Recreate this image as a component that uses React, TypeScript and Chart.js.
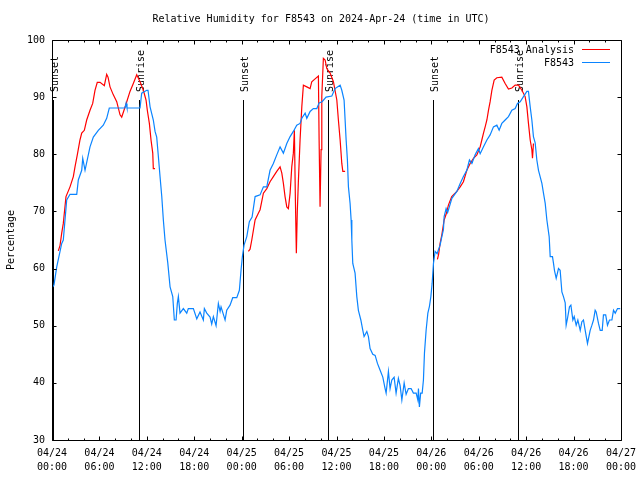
import React, { useEffect, useRef } from "react";
import { Chart, registerables } from "chart.js";

Chart.register(...registerables);

const TITLE = "Relative Humidity for F8543 on 2024-Apr-24 (time in UTC)";
const Y_TITLE = "Percentage";
const ANALYSIS_LABEL = "F8543 Analysis";
const STATION_LABEL = "F8543";

// x tick labels (every 6 hours, from 04/24 00:00 to 04/27 00:00)
const tickDays = ["04/24", "04/24", "04/24", "04/24", "04/25", "04/25", "04/25", "04/25", "04/26", "04/26", "04/26", "04/26", "04/27"];
const tickTimes = ["00:00", "06:00", "12:00", "18:00", "00:00", "06:00", "12:00", "18:00", "00:00", "06:00", "12:00", "18:00", "00:00"];

// Sun events, hours since 04/24 00:00 UTC
const sunsetHours = [0.1, 24.2, 48.15];
const sunriseHours = [11.0, 34.97, 58.97];

// F8543 station observations (hours since start, % RH)
const stationHours = [0.0, 0.25, 0.6, 1.23, 1.43, 1.86, 2.28, 3.13, 3.33, 3.76,
  3.89, 4.18, 4.81, 5.23, 5.86, 6.49, 6.92, 7.25, 9.24, 9.37,
  9.49, 11.14, 11.35, 11.99, 12.15, 12.41, 12.82, 13.04, 13.25, 13.46,
  13.67, 13.89, 14.09, 14.3, 14.65, 14.94, 15.28, 15.48, 15.7, 15.86,
  15.99, 16.2, 16.62, 17.05, 17.25, 17.89, 18.32, 18.73, 19.15, 19.28,
  19.58, 20.0, 20.21, 20.42, 20.76, 21.05, 21.27, 21.39, 21.9, 22.11,
  22.53, 22.87, 23.38, 23.71, 23.92, 24.09, 24.3, 24.65, 24.97, 25.32,
  25.7, 26.33, 26.75, 27.18, 27.59, 28.01, 28.44, 28.86, 29.28, 29.71,
  30.13, 30.54, 30.97, 31.39, 31.61, 32.03, 32.24, 32.66, 33.07, 33.51,
  33.8, 34.18, 34.68, 35.41, 35.82, 36.46, 36.67, 36.96, 37.09, 37.22,
  37.38, 37.51, 37.72, 37.85, 37.94, 38.06, 38.35, 38.57, 38.77, 39.08,
  39.33, 39.49, 39.84, 40.04, 40.25, 40.59, 40.89, 41.18, 41.52, 41.86,
  42.15, 42.28, 42.57, 42.78, 43.0, 43.29, 43.54, 43.83, 44.05, 44.27,
  44.56, 44.81, 45.1, 45.44, 45.73, 46.08, 46.29, 46.37, 46.49, 46.65,
  46.84, 47.0, 47.13, 47.34, 47.56, 47.76, 47.94, 48.1, 48.27, 48.48,
  48.73, 48.9, 49.11, 49.33, 49.53, 49.62, 49.87, 50.06, 50.6, 51.23,
  51.65, 52.06, 52.49, 52.82, 53.13, 53.54, 53.96, 54.18, 54.6, 55.03,
  55.44, 55.86, 56.29, 56.58, 56.92, 57.34, 57.76, 58.19, 58.61, 58.9,
  59.24, 59.66, 60.09, 60.29, 60.51, 60.72, 60.92, 61.14, 61.35, 61.56,
  61.99, 62.19, 62.41, 62.62, 62.91, 63.04, 63.33, 63.46, 63.58, 63.8,
  64.09, 64.3, 64.52, 64.72, 64.94, 65.06, 65.23, 65.48, 65.66, 65.91,
  66.08, 66.33, 66.54, 66.84, 67.05, 67.25, 67.47, 67.76, 68.1, 68.32,
  68.52, 68.73, 68.86, 69.15, 69.37, 69.62, 69.78, 70.06, 70.29, 70.54,
  70.85, 71.05, 71.27, 71.56, 71.9];
const stationValues = [56.6, 57.1, 60.3, 64.4, 65, 72, 73, 73, 75.5, 77.2,
  79.3, 77.2, 81.3, 83, 84.2, 85.1, 86.3, 88.1, 88.1, 88.9,
  88.1, 88.1, 90.7, 91.2, 91.2, 88.3, 86, 84, 83, 79.6,
  76.1, 72.6, 68.5, 65, 61, 56.8, 55.1, 51, 51, 53.9,
  55.1, 52.2, 53, 52.2, 53, 53, 51.2, 52.4, 51, 53,
  52.2, 51.5, 50.3, 51.6, 50, 53.9, 52.5, 53.3, 51, 52.7,
  53.6, 54.9, 54.9, 56.2, 59.7, 62.1, 64.1, 65.6, 68.2, 69,
  72.6, 72.9, 74.3, 74.3, 77.2, 78.4, 79.9, 81.3, 80.2, 81.9,
  83.1, 84, 85.1, 85.4, 86.3, 87.2, 86.3, 87.5, 88, 88,
  89, 89.2, 90, 90.2, 91.5, 92.1, 91.2, 89.5, 86, 82.5,
  79, 74.3, 71.4, 68.5, 65, 60.9, 59.2, 55.1, 52.7, 51,
  49.2, 48.1, 49, 48.1, 46, 45, 44.8, 43.4, 42.2, 41,
  39, 38.2, 42, 39, 40.5, 41, 38.2, 40.8, 39.5, 37,
  40, 38, 39, 39, 38.2, 38.2, 37, 39, 35.8, 38.2,
  38.2, 40.5, 45.2, 49.2, 52.2, 53.4, 55.1, 57.4, 60.9, 63,
  62.6, 63.3, 64.1, 65.6, 66.8, 69.1, 70.5, 69.8, 72.3, 73.5,
  74.9, 76.1, 77.2, 79, 78.4, 79.9, 81, 80.1, 81.3, 82.5,
  83.4, 84.8, 85.1, 84.2, 85.4, 86, 86.6, 87.7, 88, 88.9,
  89.2, 90.1, 91, 91, 88.3, 86, 83.1, 82, 79, 77.2,
  74.9, 73.2, 71.4, 68.5, 65.6, 62.1, 62.1, 60.9, 59.7, 58.3,
  60, 59.7, 55.9, 55.1, 54, 50.1, 51.3, 53.3, 53.6, 51,
  51.6, 50.1, 51, 49.2, 50.7, 51, 49.2, 46.9, 49.2, 50.1,
  51, 52.7, 52.4, 50.4, 49.2, 49.2, 51.9, 51.9, 50.1, 51,
  51, 52.7, 52.2, 53, 53];

// F8543 Analysis (daytime only; null marks the gaps)
const analysisHours = [0.8, 1.01, 1.23, 1.43, 1.77, 2.28, 2.7, 2.91, 3.2, 3.54,
  3.76, 4.09, 4.39, 4.81, 5.15, 5.44, 5.73, 6.08, 6.62, 6.92,
  7.09, 7.34, 7.76, 8.19, 8.61, 8.82, 9.11, 9.46, 9.87, 10.29,
  10.72, 11.14, 11.56, 11.9, 12.06, 12.32, 12.53, 12.75, 12.82, 13.04,
  18.0,
  24.85, 25.06, 25.28, 25.7, 26.11, 26.33, 26.75, 27.18, 27.59, 28.01,
  28.44, 28.86, 29.08, 29.28, 29.49, 29.71, 29.91, 30.13, 30.34, 30.54,
  30.67, 30.8, 30.92, 31.04, 31.17, 31.39, 31.61, 31.81, 32.24, 32.66,
  32.87, 33.29, 33.71, 33.8, 33.92, 34.05, 34.14, 34.34, 34.56, 34.77,
  35.19, 35.61, 36.04, 36.24, 36.46, 36.67, 36.8, 37.09,
  42.0,
  48.77, 48.92, 49.11, 49.33, 49.62, 49.87, 50.16, 50.58, 51.23, 51.65,
  52.06, 52.49, 52.91, 53.33, 53.76, 54.18, 54.39, 54.6, 54.81, 55.03,
  55.23, 55.44, 55.66, 55.95, 56.29, 56.92, 57.34, 57.76, 58.19, 58.61,
  59.03, 59.46, 59.87, 60.09, 60.29, 60.51, 60.72, 60.8, 60.92];
const analysisValues = [63.1, 64, 66.2, 67.9, 72.6, 74.3, 76.1, 77.8, 79.9, 82.5,
  83.7, 84.2, 86, 87.7, 88.9, 91.2, 92.6, 92.6, 92, 94,
  93.5, 91.8, 90.4, 89.2, 86.9, 86.5, 87.7, 89.2, 91, 92.4,
  93.9, 92.7, 91.2, 89.5, 87.7, 85.4, 82.5, 80.2, 77.5, 77.5,
  null,
  63, 63.4, 65, 68.5, 69.7, 70.3, 73.2, 74, 75.2, 76.1,
  77, 77.8, 76.7, 74.9, 72.6, 70.8, 70.5, 73.2, 77.8, 80.2,
  84.2, 72, 62.7, 70, 75, 82.5, 88.3, 92.1, 91.8, 91.5,
  92.7, 93.2, 93.7, 82.5, 70.8, 80.8, 90.1, 96.8, 96.5, 95,
  94.2, 92.7, 89.5, 86, 82.5, 78.4, 77, 77,
  null,
  61.6, 62.5, 64.4, 65.9, 68.5, 69.5, 71.1, 72.6, 73.5, 74.3,
  75.2, 77.2, 78.4, 79.3, 79.9, 81.3, 82.5, 83.7, 84.8, 86,
  87.7, 89.2, 91.2, 93, 93.4, 93.5, 92.4, 91.4, 91.6, 92.1,
  92.1, 91.2, 90.1, 88.3, 85.4, 82.5, 80.8, 79.3, 81.9];

const X_MIN = 0;
const X_MAX = 72;
const Y_MIN = 30;
const Y_MAX = 100;

const FONT = '"DejaVu Sans Mono", "Liberation Mono", monospace';
const RED = "#ff0000";
const BLUE = "#0a84ff";

function toPoints(hours: number[], values: (number | null)[]) {
  const n = Math.min(hours.length, values.length);
  const out: { x: number; y: number | null }[] = [];
  for (let i = 0; i < n; i++) out.push({ x: hours[i], y: values[i] });
  return out;
}

const gnuplotPlugin = {
  id: "gnuplotLook",
  beforeDatasetsDraw(chart: any) {
    const { ctx, chartArea: a, scales } = chart;
    const xs = scales.x;
    const h = a.bottom - a.top;
    const lineTop = a.bottom - 0.85 * h;
    const labelY = a.bottom - 0.87 * h;
    ctx.save();
    ctx.strokeStyle = "#000";
    ctx.fillStyle = "#000";
    ctx.lineWidth = 1;
    ctx.font = `10px ${FONT}`;
    const events: [number, string][] = [
      ...sunsetHours.map((v) => [v, "Sunset"] as [number, string]),
      ...sunriseHours.map((v) => [v, "Sunrise"] as [number, string]),
    ];
    for (const [t, label] of events) {
      const x = Math.round(xs.getPixelForValue(t)) + 0.5;
      ctx.beginPath();
      ctx.moveTo(x, lineTop);
      ctx.lineTo(x, a.bottom);
      ctx.stroke();
      ctx.save();
      ctx.translate(x + 2, labelY);
      ctx.rotate(-Math.PI / 2);
      ctx.textAlign = "left";
      ctx.textBaseline = "middle";
      ctx.fillText(label, 0, 0);
      ctx.restore();
    }
    ctx.restore();
  },
  afterDatasetsDraw(chart: any) {
    const { ctx, chartArea: a, scales } = chart;
    const xs = scales.x;
    const ys = scales.y;
    ctx.save();
    ctx.strokeStyle = "#000";
    ctx.lineWidth = 1;
    const L = Math.round(a.left) + 0.5;
    const R = Math.round(a.right) + 0.5;
    const T = Math.round(a.top) + 0.5;
    const B = Math.round(a.bottom) + 0.5;
    ctx.beginPath();
    ctx.rect(L, T, R - L, B - T);
    ctx.stroke();
    ctx.beginPath();
    for (let hr = X_MIN; hr <= X_MAX; hr += 2) {
      const len = hr % 6 === 0 ? 4 : 2;
      const x = Math.round(xs.getPixelForValue(hr)) + 0.5;
      ctx.moveTo(x, B);
      ctx.lineTo(x, B - len);
      ctx.moveTo(x, T);
      ctx.lineTo(x, T + len);
    }
    for (let v = Y_MIN; v <= Y_MAX; v += 10) {
      const y = Math.round(ys.getPixelForValue(v)) + 0.5;
      ctx.moveTo(L, y);
      ctx.lineTo(L + 4, y);
      ctx.moveTo(R, y);
      ctx.lineTo(R - 4, y);
    }
    ctx.stroke();
    ctx.restore();
  },
  afterDraw(chart: any) {
    const { ctx, chartArea: a } = chart;
    ctx.save();
    ctx.fillStyle = "#000";
    ctx.font = `10px ${FONT}`;
    ctx.textAlign = "center";
    ctx.textBaseline = "middle";
    ctx.fillText(TITLE, 321, 19);
    // legend
    const entries: [string, string][] = [
      [ANALYSIS_LABEL, RED],
      [STATION_LABEL, BLUE],
    ];
    entries.forEach(([label, color], i) => {
      const y = a.top + 10 + i * 13;
      ctx.textAlign = "right";
      ctx.fillStyle = "#000";
      ctx.fillText(label, a.right - 47, y);
      ctx.strokeStyle = color;
      ctx.lineWidth = 1;
      ctx.beginPath();
      ctx.moveTo(a.right - 39, Math.round(y) - 0.5);
      ctx.lineTo(a.right - 11, Math.round(y) - 0.5);
      ctx.stroke();
    });
    ctx.restore();
  },
};

export default function App() {
  const canvasRef = useRef<HTMLCanvasElement | null>(null);

  useEffect(() => {
    const canvas = canvasRef.current;
    if (!canvas) return;
    Chart.defaults.font.family = FONT;
    const chart = new Chart(canvas, {
      type: "line",
      data: {
        datasets: [
          {
            label: STATION_LABEL,
            data: toPoints(stationHours, stationValues),
            borderColor: BLUE,
            backgroundColor: BLUE,
            borderWidth: 1.2,
            pointRadius: 0,
            tension: 0,
            spanGaps: false,
            order: 0,
          },
          {
            label: ANALYSIS_LABEL,
            data: toPoints(analysisHours, analysisValues),
            borderColor: RED,
            backgroundColor: RED,
            borderWidth: 1.2,
            pointRadius: 0,
            tension: 0,
            spanGaps: false,
            order: 1,
          },
        ],
      },
      options: {
        animation: false,
        responsive: false,
        devicePixelRatio: 1,
        layout: { padding: { top: 40, right: 19, left: 0, bottom: 0 } },
        plugins: {
          legend: { display: false },
          title: { display: false },
          tooltip: { enabled: false },
        },
        scales: {
          x: {
            type: "linear",
            min: X_MIN,
            max: X_MAX,
            grid: { display: false, drawTicks: false },
            border: { display: false },
            ticks: {
              stepSize: 6,
              autoSkip: false,
              maxRotation: 0,
              minRotation: 0,
              padding: 6,
              color: "#000",
              font: { family: FONT, size: 10, lineHeight: 1.4 },
              callback: (value: any) => {
                const idx = Math.round(Number(value) / 6);
                return [tickDays[idx] ?? "", tickTimes[idx] ?? ""];
              },
            },
            afterFit: (scale: any) => {
              scale.height = 40;
              scale.paddingLeft = 0;
              scale.paddingRight = 0;
            },
          },
          y: {
            type: "linear",
            min: Y_MIN,
            max: Y_MAX,
            grid: { display: false, drawTicks: false },
            border: { display: false },
            title: {
              display: true,
              text: Y_TITLE,
              color: "#000",
              font: { family: FONT, size: 10 },
              padding: { top: 5, bottom: 0 },
            },
            ticks: {
              stepSize: 10,
              padding: 7,
              color: "#000",
              font: { family: FONT, size: 10 },
              callback: (value: any) => String(value),
            },
            afterFit: (scale: any) => {
              scale.width = 52;
            },
          },
        },
      },
      plugins: [gnuplotPlugin],
    });
    return () => chart.destroy();
  }, []);

  return (
    <div style={{ position: "absolute", left: 0, top: 0, width: 640, height: 480, background: "#fff" }}>
      <canvas ref={canvasRef} width={640} height={480} style={{ display: "block", width: 640, height: 480 }} />
    </div>
  );
}
